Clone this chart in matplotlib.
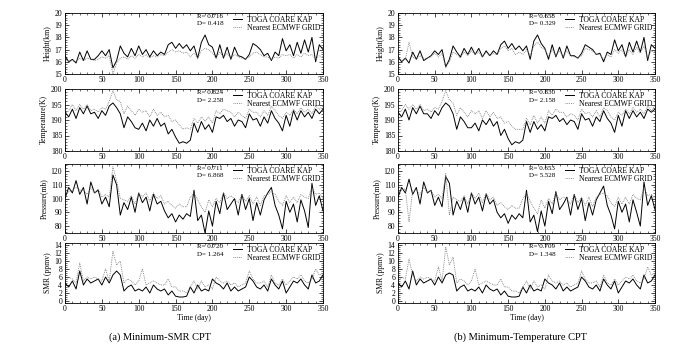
'''Tropopause (CPT) comparison: TOGA COARE KAP soundings vs nearest ECMWF grid'''

import matplotlib
matplotlib.use("Agg")
import matplotlib.pyplot as plt
from matplotlib.ticker import MultipleLocator
import numpy as np

plt.rcParams["font.family"] = ["Liberation Serif", "DejaVu Serif"]

# values read every 5 days (day 0 .. 350)
# ---- (a) Minimum-SMR CPT ----
a_hgt_kap = [16.5, 16.0, 16.2, 15.9, 16.8, 16.1, 16.9, 16.2, 16.2, 16.5, 16.9, 16.5, 17.0, 15.5, 16.1,
             17.3, 16.7, 16.4, 17.1, 16.5, 17.3, 16.6, 17.0, 16.4, 16.9, 16.5, 16.8, 16.6, 17.4, 17.6,
             17.1, 17.5, 17.1, 17.4, 16.9, 17.3, 16.3, 17.6, 18.2, 17.4, 17.2, 16.3, 17.4, 16.3, 17.2,
             16.2, 17.2, 16.5, 16.4, 16.2, 16.6, 17.5, 17.3, 17.0, 16.5, 16.7, 16.1, 16.8, 16.5, 17.9,
             16.9, 17.4, 16.5, 17.6, 16.7, 17.8, 16.8, 18.0, 16.0, 17.4, 17.0]
a_hgt_ecm = [16.2, 16.0, 16.1, 16.0, 16.3, 16.1, 16.3, 16.2, 16.1, 16.2, 16.4, 16.3, 16.5, 15.0, 15.9,
             16.3, 16.4, 16.2, 16.5, 16.3, 16.6, 16.4, 16.6, 16.3, 16.5, 16.4, 16.6, 16.5, 16.8, 17.0,
             16.8, 16.9, 16.7, 16.8, 16.4, 16.7, 16.3, 16.9, 17.1, 17.0, 16.7, 16.3, 16.8, 16.4, 16.7,
             16.3, 16.6, 16.4, 16.3, 16.2, 16.4, 16.7, 16.8, 16.6, 16.4, 16.4, 16.2, 16.4, 16.3, 16.6,
             16.5, 16.6, 16.3, 16.6, 16.4, 16.7, 16.5, 16.6, 16.2, 16.5, 16.4]
a_tmp_kap = [192.5, 191.0, 193.5, 190.5, 194.0, 192.0, 194.5, 192.0, 192.5, 190.5, 193.0, 191.5, 194.5, 195.5, 194.0,
             192.0, 187.5, 191.0, 189.5, 187.5, 187.0, 189.0, 186.5, 190.0, 188.0, 190.5, 188.0, 189.0, 185.5, 187.0,
             184.5, 182.5, 183.0, 182.5, 183.5, 189.0, 186.0, 189.5, 187.0, 188.5, 186.0, 191.0, 190.5, 191.5, 189.5,
             190.5, 188.0, 190.0, 189.5, 187.5, 192.0, 190.0, 190.5, 188.0, 191.0, 189.0, 193.0, 190.5, 189.0, 186.5,
             191.5, 188.0, 193.0, 190.0, 193.0, 191.0, 192.5, 190.5, 193.5, 192.0, 193.5]
a_tmp_ecm = [192.0, 193.0, 195.0, 193.0, 195.0, 193.5, 195.0, 193.0, 193.5, 192.5, 194.0, 193.5, 196.0, 199.5, 196.5,
             196.0, 192.0, 194.5, 193.0, 191.5, 193.5, 192.5, 193.0, 191.0, 193.5, 191.5, 192.5, 191.0, 191.5, 189.5,
             190.0, 188.5, 187.0, 187.5, 187.0, 190.5, 189.0, 191.0, 189.5, 191.0, 189.0, 193.0, 192.0, 193.5, 193.0,
             192.5, 191.0, 192.5, 191.5, 190.5, 193.5, 192.5, 192.5, 191.0, 193.0, 191.5, 194.5, 193.0, 191.5, 190.5,
             192.5, 191.5, 193.5, 192.0, 194.0, 192.5, 193.5, 192.0, 194.5, 193.5, 194.5]
a_prs_kap = [100, 108, 104, 113, 103, 108, 96, 112, 104, 106, 96, 101, 94, 117, 110,
             88, 97, 92, 101, 90, 104, 97, 101, 91, 103, 96, 98, 91, 86, 89,
             83, 88, 85, 89, 87, 106, 84, 88, 75, 91, 80, 98, 89, 104, 92,
             96, 100, 88, 103, 92, 100, 84, 97, 88, 99, 104, 108, 95, 88, 78,
             98, 90, 96, 83, 99, 91, 79, 111, 95, 102, 91]
a_prs_ecm = [103, 105, 106, 108, 106, 106, 103, 108, 104, 107, 101, 103, 101, 123, 113,
             100, 99, 98, 102, 96, 104, 101, 104, 98, 104, 100, 102, 96, 98, 95,
             93, 96, 94, 94, 101, 104, 99, 94, 90, 99, 94, 100, 97, 104, 100,
             102, 100, 97, 103, 98, 102, 96, 101, 95, 102, 103, 105, 103, 98, 95,
             102, 97, 101, 97, 103, 101, 100, 108, 103, 104, 100]
a_smr_kap = [4.5, 3.5, 5.0, 3.0, 7.5, 4.0, 5.5, 4.5, 5.0, 5.5, 4.0, 6.0, 4.5, 6.5, 7.5,
             6.5, 2.5, 3.5, 4.0, 2.5, 3.0, 2.5, 3.5, 2.0, 4.0, 3.0, 2.5, 3.0, 1.5, 2.5,
             1.2, 1.0, 1.0, 1.2, 3.5, 2.0, 4.0, 2.5, 3.0, 2.5, 5.5, 4.5, 4.0, 3.0, 4.5,
             2.5, 3.5, 2.5, 3.0, 3.5, 6.0, 5.0, 3.5, 3.0, 4.0, 2.5, 5.5, 4.0, 3.0, 5.0,
             2.0, 3.5, 5.0, 4.5, 5.5, 4.0, 3.0, 6.5, 4.5, 5.0, 6.5]
a_smr_ecm = [5.0, 6.0, 5.5, 4.5, 9.5, 5.0, 6.0, 5.5, 6.0, 5.5, 5.0, 8.0, 5.0, 12.5, 9.0,
             10.0, 4.5, 5.5, 5.0, 4.0, 5.0, 8.0, 4.0, 4.5, 5.0, 4.5, 4.0, 4.0, 5.5, 3.5,
             3.5, 2.5, 2.5, 2.0, 3.5, 5.0, 3.0, 5.0, 3.5, 4.0, 3.0, 6.0, 5.0, 4.5, 5.0,
             4.0, 4.5, 3.5, 4.0, 4.5, 7.5, 5.5, 4.5, 4.5, 5.0, 3.5, 6.5, 4.5, 4.0, 5.5,
             4.0, 5.0, 6.0, 5.5, 6.5, 5.0, 4.5, 5.5, 8.0, 6.5, 7.0]

# ---- (b) Minimum-Temperature CPT ----
b_hgt_kap = [16.4, 16.0, 16.3, 15.9, 16.8, 16.2, 16.9, 16.1, 16.3, 16.5, 16.9, 16.6, 17.0, 15.6, 16.2,
             17.3, 16.8, 16.4, 17.1, 16.6, 17.2, 16.6, 17.1, 16.4, 16.9, 16.5, 16.9, 16.6, 17.4, 17.7,
             17.1, 17.5, 17.0, 17.3, 16.9, 17.3, 16.2, 17.7, 18.2, 17.5, 17.1, 16.2, 17.4, 16.4, 17.2,
             16.3, 17.3, 16.5, 16.5, 16.3, 16.7, 17.4, 17.2, 17.0, 16.6, 16.7, 16.0, 16.8, 16.6, 17.8,
             16.9, 17.4, 16.4, 17.6, 16.8, 17.7, 16.8, 18.0, 16.1, 17.4, 17.1]
b_hgt_ecm = [16.4, 16.1, 16.2, 17.6, 16.4, 16.2, 16.5, 16.3, 16.3, 16.4, 16.7, 16.4, 16.7, 15.5, 16.0,
             16.8, 16.6, 16.3, 16.8, 16.5, 16.9, 16.6, 16.8, 16.4, 16.8, 16.5, 16.7, 16.6, 17.1, 17.3,
             16.9, 17.1, 16.6, 16.8, 16.6, 17.0, 16.5, 17.3, 17.6, 17.2, 17.0, 16.4, 17.0, 16.5, 16.9,
             16.4, 16.9, 16.5, 16.4, 16.3, 16.5, 17.1, 17.0, 16.9, 16.6, 16.6, 16.2, 16.6, 16.4, 17.0,
             16.7, 17.0, 16.4, 17.0, 16.6, 17.2, 16.7, 17.3, 16.3, 16.9, 16.8]
b_tmp_kap = [192.5, 191.0, 193.5, 190.0, 194.0, 192.0, 194.5, 192.0, 192.0, 190.5, 193.0, 191.5, 194.0, 195.5, 194.5,
             192.0, 187.0, 191.0, 189.5, 187.5, 187.5, 189.0, 186.5, 190.0, 188.5, 190.5, 188.0, 189.5, 185.0, 187.0,
             184.0, 182.0, 183.0, 182.5, 183.5, 189.5, 186.0, 189.5, 187.0, 188.5, 186.5, 191.0, 190.5, 191.5, 189.5,
             190.5, 188.5, 190.0, 189.5, 187.0, 192.0, 190.0, 190.5, 188.0, 191.0, 189.5, 193.0, 190.5, 189.0, 186.0,
             191.5, 188.0, 193.0, 190.5, 193.0, 191.0, 192.5, 190.5, 193.5, 192.5, 193.5]
b_tmp_ecm = [192.5, 193.0, 195.0, 193.5, 195.0, 193.5, 195.0, 193.0, 193.5, 192.5, 194.0, 193.5, 196.0, 199.5, 196.5,
             195.5, 191.5, 194.0, 192.5, 191.0, 193.0, 192.0, 193.0, 190.5, 193.0, 191.0, 192.5, 190.5, 191.0, 189.0,
             189.5, 188.0, 187.0, 187.0, 187.0, 190.5, 188.5, 191.5, 189.0, 191.0, 189.0, 193.0, 191.5, 193.5, 192.5,
             192.5, 191.0, 192.0, 191.5, 190.0, 193.5, 192.0, 192.5, 191.0, 193.0, 191.0, 194.0, 193.0, 191.0, 190.0,
             192.5, 191.5, 193.5, 192.0, 194.0, 192.5, 193.5, 192.0, 194.5, 193.0, 194.5]
b_prs_kap = [101, 108, 104, 114, 103, 108, 96, 112, 104, 106, 95, 101, 94, 116, 111,
             88, 98, 92, 101, 90, 104, 96, 101, 91, 103, 96, 99, 90, 86, 89,
             82, 88, 85, 89, 86, 106, 83, 88, 76, 91, 80, 98, 89, 105, 92,
             96, 101, 88, 103, 92, 100, 84, 97, 88, 99, 104, 109, 95, 88, 78,
             98, 90, 96, 83, 99, 90, 80, 112, 95, 102, 92]
b_prs_ecm = [104, 106, 107, 83, 106, 106, 103, 108, 104, 106, 101, 103, 100, 118, 88,
             101, 99, 98, 102, 96, 104, 100, 104, 97, 104, 99, 101, 95, 97, 94,
             92, 95, 93, 93, 100, 104, 98, 93, 89, 99, 93, 100, 96, 104, 99,
             101, 100, 96, 103, 97, 101, 95, 101, 94, 101, 103, 104, 102, 97, 94,
             101, 96, 101, 96, 103, 100, 99, 108, 102, 103, 100]
b_smr_kap = [4.5, 3.5, 5.0, 3.0, 7.5, 4.0, 5.5, 4.5, 5.0, 5.5, 4.0, 6.0, 4.5, 6.5, 7.0,
             6.5, 2.5, 3.5, 4.0, 2.5, 3.0, 2.5, 3.5, 2.0, 4.0, 3.0, 2.5, 3.0, 1.5, 2.5,
             1.2, 1.0, 1.0, 1.2, 3.5, 2.0, 4.0, 2.5, 3.0, 2.5, 5.5, 4.5, 4.0, 3.0, 4.5,
             2.5, 3.5, 2.5, 3.0, 3.5, 6.0, 5.0, 3.5, 3.0, 4.0, 2.5, 5.5, 4.0, 3.0, 5.0,
             2.0, 3.5, 5.0, 4.5, 5.5, 4.0, 3.0, 6.5, 4.5, 5.0, 6.5]
b_smr_ecm = [5.0, 6.0, 5.5, 10.5, 6.5, 5.0, 6.0, 5.5, 6.0, 5.5, 5.0, 8.5, 5.0, 13.5, 9.0,
             11.0, 4.5, 5.5, 5.0, 4.0, 5.0, 8.0, 4.0, 4.5, 5.0, 4.5, 4.0, 4.0, 5.5, 3.5,
             3.5, 2.5, 2.5, 2.0, 3.5, 5.0, 3.0, 5.0, 3.5, 4.0, 3.0, 6.5, 5.0, 4.5, 5.0,
             4.0, 4.5, 3.5, 4.0, 4.5, 7.5, 5.5, 4.5, 4.5, 5.0, 3.5, 6.5, 4.5, 4.0, 5.5,
             4.0, 5.0, 6.0, 5.5, 6.5, 5.0, 4.5, 5.5, 8.5, 6.5, 7.0]

ylabels = ["Height(km)", "Temperature(K)", "Pressure(mb)", "SMR (ppmv)"]
ylims = [(15, 20), (180, 200), (75, 125), (-0.5, 14.5)]
ymajor = [1, 5, 10, 2]
yminor = [0.2, 1, 2, 0.5]

stats_a = [("0.716", "0.418"), ("0.824", "2.258"), ("0.711", "6.868"), ("0.720", "1.264")]
stats_b = [("0.658", "0.329"), ("0.830", "2.158"), ("0.653", "5.528"), ("0.709", "1.348")]

cols = [
    dict(x0=65, x1=323, caption="(a) Minimum-SMR CPT", cap_x=160, stats=stats_a,
         kap=[a_hgt_kap, a_tmp_kap, a_prs_kap, a_smr_kap],
         ecm=[a_hgt_ecm, a_tmp_ecm, a_prs_ecm, a_smr_ecm]),
    dict(x0=398, x1=655, caption="(b) Minimum-Temperature CPT", cap_x=520, stats=stats_b,
         kap=[b_hgt_kap, b_tmp_kap, b_prs_kap, b_smr_kap],
         ecm=[b_hgt_ecm, b_tmp_ecm, b_prs_ecm, b_smr_ecm]),
]
rows = [(13, 74), (89, 151), (164, 233), (243, 303)]  # pixel top/bottom

W, H = 680, 360
fig = plt.figure(figsize=(W / 100, H / 100), dpi=100)

fs = 5.5
for col in cols:
    for i, (yt, yb) in enumerate(rows):
        ax = fig.add_axes([col["x0"] / W, 1 - yb / H, (col["x1"] - col["x0"]) / W, (yb - yt) / H])
        kap = col["kap"][i]
        ecm = col["ecm"][i]
        ax.plot(5 * np.arange(len(kap)), kap, color="black", lw=0.7, label="TOGA COARE KAP")
        ax.plot(5 * np.arange(len(ecm)), ecm, color="0.45", lw=0.6, ls=(0, (1, 1.2)),
                label="Nearest ECMWF GRID")
        ax.set_xlim(0, 350)
        ax.set_ylim(*ylims[i])
        ax.xaxis.set_major_locator(MultipleLocator(50))
        ax.xaxis.set_minor_locator(MultipleLocator(10))
        ax.yaxis.set_major_locator(MultipleLocator(ymajor[i]))
        ax.yaxis.set_minor_locator(MultipleLocator(yminor[i]))
        ax.tick_params(which="both", direction="in", top=True, right=True, labelsize=fs)
        ax.tick_params(axis="x", pad=1.5)
        ax.tick_params(axis="y", pad=2)
        ax.tick_params(which="major", length=3, width=0.5)
        ax.tick_params(which="minor", length=1.5, width=0.4)
        for s in ax.spines.values():
            s.set_linewidth(0.6)
        ax.set_ylabel(ylabels[i], fontsize=fs, labelpad=2)
        r, d = col["stats"][i]
        h = yb - yt
        ax.text(0.51, 1 - 4.0 / h, "R= " + r, transform=ax.transAxes, fontsize=5, va="center")
        ax.text(0.51, 1 - 11.0 / h, "D= " + d, transform=ax.transAxes, fontsize=5, va="center")
        ax.legend(loc="upper right", frameon=False, fontsize=fs, handlelength=1.2,
                  handletextpad=0.6, labelspacing=0.05, borderaxespad=0.25, borderpad=0.1)
        if i == 3:
            ax.set_xlabel("Time (day)", fontsize=fs, labelpad=1)
    fig.text(col["cap_x"] / W, 1 - 337 / H, col["caption"], fontsize=7.5, ha="center", va="center")

plt.savefig("out.png", dpi=100)
